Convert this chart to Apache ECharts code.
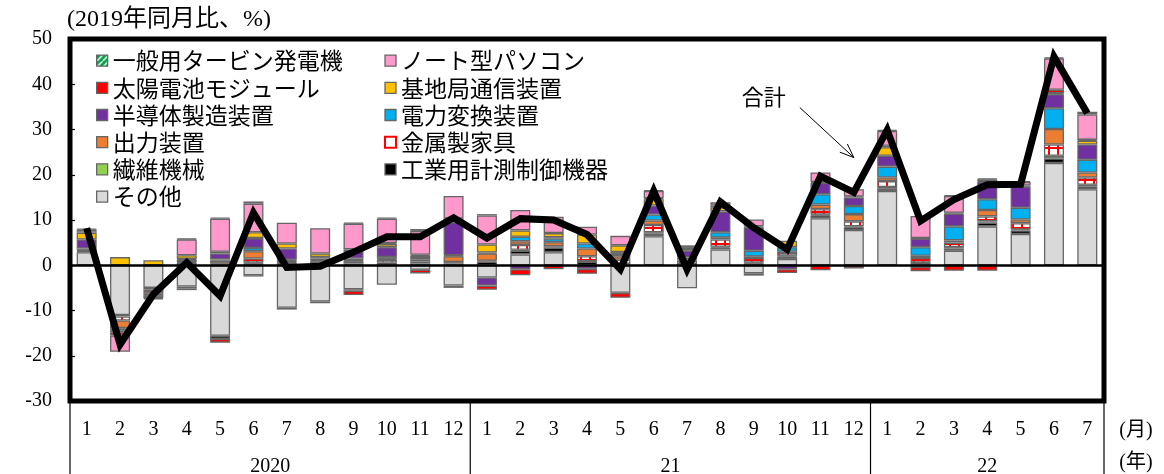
<!DOCTYPE html>
<html>
<head>
<meta charset="utf-8">
<script src="https://cdn.jsdelivr.net/npm/echarts/dist/echarts.min.js"></script>
<style>
html,body{margin:0;padding:0;background:#fff;}
#chart{width:1164px;height:474px;}
</style>
</head>
<body>
<div id="chart"></div>
<script>
// Months (2020-1 .. 2022-7) and year groups
const months = ['1','2','3','4','5','6','7','8','9','10','11','12',
                '1','2','3','4','5','6','7','8','9','10','11','12',
                '1','2','3','4','5','6','7'];
const yearLabels = ['2020', '21', '22'];
const yearLengths = [12, 12, 7];
const yTicks = [-30, -20, -10, 0, 10, 20, 30, 40, 50];

// Contributions by item (percentage points, vs. same month of 2019)
const other            = [2.9,-11.0,-5.0,-4.7,-15.6,-2.2,-9.4,-8.0,-5.3,-4.3,-1.0,-4.5,-2.7,2.4,2.9,0,-6.1,6.4,-5.1,3.5,-1.8,1.4,10.4,7.8,16.4,-0.4,3.2,8.6,6.9,22.6,16.8];
const instruments      = [0.2,-0.3,-0.4,0.5,-0.7,0.4,0.5,0.3,0.4,0.6,0.4,0.4,0.8,0.8,1.0,0.8,0.3,0.6,0.3,0.4,0.4,0.5,0.6,0.6,0.6,0.5,0.5,0.8,0.8,1.0,0.6];
const textileMachinery = [0,0,0,0,0.2,0.2,0,0,0,0,0,0,0,0.2,0,0.1,0,0.3,0,0.2,0.2,0.2,0.2,0.2,0.3,0.1,0.3,0.3,0.2,0.6,0.4];
const metalFurniture   = [0.1,-0.9,-0.3,0.2,0.2,0.9,0.2,0.6,0.5,0.6,0.4,0.3,0.2,1.1,0.3,1.1,0.9,1.6,0.7,1.6,1.0,0.6,1.2,1.1,1.3,1.0,1.0,1.1,1.4,2.5,1.6];
const outputDevices    = [0.2,-1.7,-0.6,0.5,0.6,1.6,0.3,0.2,0.2,0.2,0.4,1.3,1.6,0.8,0.9,1.7,0.8,1.0,0.3,0.4,0.3,0.3,1.0,1.6,0.8,0.5,0.5,1.4,0.8,3.4,1.1];
const powerConversion  = [0.3,-0.6,-0.3,0.2,0.3,0.7,0.2,0.4,0.4,0.4,0.6,0.2,0.2,1.0,0.8,1.1,0.5,1.3,0.4,1.2,1.3,1.0,2.3,1.8,2.4,1.9,3.1,2.4,2.6,4.6,2.8];
const semiconductor    = [2.0,-0.3,-0.4,-0.4,1.3,2.2,2.5,0.3,2.0,2.2,0.3,7.3,-1.8,-0.9,0.3,-0.8,0.4,2.0,1.5,4.6,5.2,-0.9,2.5,1.9,2.4,1.9,2.8,3.8,4.7,3.1,3.4];
const baseStation      = [1.5,1.8,1.1,0.8,0.4,1.3,1.1,0.8,-0.3,0.7,0.2,0.8,1.8,1.4,0.9,2.0,1.5,1.4,0.4,0.9,0.2,1.4,0.2,0.2,1.9,0.1,0.2,0.2,-0.3,0.2,0.8];
const solarModules     = [0.3,-0.7,-0.3,-0.4,-0.8,-0.3,-0.4,-0.4,-1.0,0.2,-0.8,-0.5,-0.9,-1.3,-0.9,-1.1,-1.1,0.2,0.2,0.4,-0.5,-0.8,-1.1,-0.7,0.3,-0.9,-1.2,-1.2,0.2,0.8,0.2];
const notebookPCs      = [0.4,-3.6,-0.2,3.5,7.3,6.3,4.6,5.6,5.7,5.4,5.3,5.0,6.4,4.5,3.6,1.7,2.1,1.6,0.1,0.7,1.5,0,2.1,1.6,3.3,4.9,3.7,0.4,0.8,6.9,5.6];
const turbines         = [0.2,0,0,0.2,0.2,0.5,0,0,0.2,0.2,0.4,0,0.3,0,0,0,0,0.2,0.5,0,0,0,0,0,0.2,0,0.2,0.2,0.2,0.2,0.6];
const total            = [8.2,-17.5,-6.4,0.6,-6.8,11.6,-0.5,-0.2,2.9,6.3,6.3,10.5,6.0,10.3,10.0,6.8,-0.9,16.4,-0.9,14.0,8.3,3.5,19.7,16.1,29.9,9.8,14.5,17.8,17.9,46.1,33.6];

// Fill patterns
function metalPattern() {
  const c = document.createElement('canvas');
  c.width = 9; c.height = 8;
  const g = c.getContext('2d');
  g.fillStyle = '#ffffff'; g.fillRect(0, 0, 9, 8);
  g.fillStyle = '#ff0000';
  g.fillRect(4, 0, 2, 8);
  g.fillRect(0, 3, 9, 2);
  return { image: c, repeat: 'repeat' };
}
function turbinePattern() {
  const c = document.createElement('canvas');
  c.width = 6; c.height = 6;
  const g = c.getContext('2d');
  g.fillStyle = '#00a04a'; g.fillRect(0, 0, 6, 6);
  g.strokeStyle = '#ffffff'; g.lineWidth = 1.5;
  g.beginPath(); g.moveTo(0, 6); g.lineTo(6, 0); g.stroke();
  return { image: c, repeat: 'repeat' };
}

// Stacking order, from the zero line outwards
const stackItems = [
  { name: 'その他',             data: other,            color: '#d9d9d9' },
  { name: '工業用計測制御機器', data: instruments,      color: '#000000' },
  { name: '繊維機械',           data: textileMachinery, color: '#92d050' },
  { name: '金属製家具',         data: metalFurniture,   color: metalPattern() },
  { name: '出力装置',           data: outputDevices,    color: '#ed7d31' },
  { name: '電力変換装置',       data: powerConversion,  color: '#00b0f0' },
  { name: '半導体製造装置',     data: semiconductor,    color: '#7030a0' },
  { name: '基地局通信装置',     data: baseStation,      color: '#ffc000' },
  { name: '太陽電池モジュール', data: solarModules,     color: '#ff0000' },
  { name: 'ノート型パソコン',   data: notebookPCs,      color: '#ff99cc' },
  { name: '一般用タービン発電機', data: turbines,       color: turbinePattern() }
];

const SERIF = "'Liberation Serif', 'DejaVu Serif', 'Noto Sans CJK JP', serif";
const LEGEND_FONT = "'Noto Sans CJK JP', sans-serif";

const barSeries = stackItems.map(it => ({
  name: it.name,
  type: 'bar',
  stack: 'total',
  barWidth: 20,
  data: it.data.map(v => (v === 0 ? null : v)),
  itemStyle: { color: it.color, borderColor: '#666666', borderWidth: 1.3 },
  emphasis: { disabled: true }
}));

const legendLeft = ['一般用タービン発電機', '太陽電池モジュール', '半導体製造装置', '出力装置', '繊維機械', 'その他'];
const legendRight = ['ノート型パソコン', '基地局通信装置', '電力変換装置', '金属製家具', '工業用計測制御機器'];
function legendData(names) {
  return names.map(n => n === '金属製家具'
    ? { name: n, itemStyle: { color: '#ffffff', borderColor: '#ff0000', borderWidth: 2 } }
    : { name: n, itemStyle: { borderColor: '#666666', borderWidth: 1.3 } });
}
const legendCommon = {
  orient: 'vertical', icon: 'rect', itemWidth: 11, itemHeight: 11, itemGap: 0,
  padding: 0, selectedMode: false,
  textStyle: { fontFamily: LEGEND_FONT, fontSize: 23, color: '#000', lineHeight: 27.2, padding: [0, 0, 0, 0] }
};

const chart = echarts.init(document.getElementById('chart'), null, { renderer: 'canvas' });
chart.setOption({
  animation: false,
  backgroundColor: '#ffffff',
  grid: { left: 70, right: 60, top: 39, bottom: 73, show: true, borderColor: '#000', borderWidth: 5, backgroundColor: 'transparent' },
  legend: [
    Object.assign({}, legendCommon, { left: 96, top: 47, data: legendData(legendLeft) }),
    Object.assign({}, legendCommon, { left: 384, top: 47, data: legendData(legendRight) })
  ],
  xAxis: {
    type: 'category',
    data: months,
    axisLine: { show: false },
    axisTick: { show: false },
    axisLabel: { fontFamily: SERIF, fontSize: 20, color: '#000', margin: 19, interval: 0 }
  },
  yAxis: {
    type: 'value',
    min: yTicks[0], max: yTicks[yTicks.length - 1], interval: 10,
    axisLine: { show: false },
    axisTick: { show: true, inside: true, length: 5, lineStyle: { color: '#000', width: 1.2 } },
    splitLine: { show: false },
    axisLabel: { fontFamily: SERIF, fontSize: 20, color: '#000', margin: 18 }
  },
  series: barSeries.concat([{
    name: '合計',
    type: 'line',
    data: total,
    symbol: 'none',
    z: 10,
    lineStyle: { color: '#000', width: 7, join: 'miter' },
    emphasis: { disabled: true },
    markLine: {
      silent: true, symbol: 'none', label: { show: false },
      lineStyle: { color: '#000', width: 2.5, type: 'solid' },
      data: [{ yAxis: 0 }]
    }
  }])
});

// Axis decorations: year separators, year labels, units, axis title, annotation
const x0 = chart.convertToPixel({ xAxisIndex: 0 }, 0);
const cw = chart.convertToPixel({ xAxisIndex: 0 }, 1) - x0;
const edge = k => x0 - cw / 2 + k * cw;
const gfx = [];
let acc = 0;
const bounds = [0];
yearLengths.forEach(n => { acc += n; bounds.push(acc); });
bounds.forEach(k => {
  gfx.push({ type: 'line', shape: { x1: edge(k), y1: 403, x2: edge(k), y2: 474 }, style: { stroke: '#000', lineWidth: 1.2 } });
});
yearLabels.forEach((lab, i) => {
  const cx = (edge(bounds[i]) + edge(bounds[i + 1])) / 2;
  gfx.push({ type: 'text', x: cx, y: 467, style: { text: lab, fontFamily: SERIF, fontSize: 20, fill: '#000', align: 'center', verticalAlign: 'middle' } });
});
const rightEdge = edge(months.length);
gfx.push({ type: 'text', x: rightEdge + 32, y: 431, style: { text: '(月)', fontFamily: SERIF, fontSize: 20, fill: '#000', align: 'center', verticalAlign: 'middle' } });
gfx.push({ type: 'text', x: rightEdge + 32, y: 463, style: { text: '(年)', fontFamily: SERIF, fontSize: 20, fill: '#000', align: 'center', verticalAlign: 'middle' } });
gfx.push({ type: 'text', x: 67, y: 20, style: { text: '(2019年同月比、%)', fontFamily: SERIF, fontSize: 24, fill: '#000', align: 'left', verticalAlign: 'middle' } });
gfx.push({ type: 'text', x: 595, y: -10, style: { text: '主要品目別の資本財輸出金額指数', fontFamily: SERIF, fontSize: 23, fill: '#000', align: 'center', verticalAlign: 'middle' } });

// "合計" callout with an open arrow pointing at the total line
const tip = chart.convertToPixel({ xAxisIndex: 0, yAxisIndex: 0 }, [23, 23.8]);
const tail = [tip[0] - 54, tip[1] - 50];
const ang = Math.atan2(tip[1] - tail[1], tip[0] - tail[0]);
const head = 15, spread = 0.38;
const hA = [tip[0] - head * Math.cos(ang - spread), tip[1] - head * Math.sin(ang - spread)];
const hB = [tip[0] - head * Math.cos(ang + spread), tip[1] - head * Math.sin(ang + spread)];
gfx.push({ type: 'line', shape: { x1: tail[0], y1: tail[1], x2: tip[0], y2: tip[1] }, style: { stroke: '#000', lineWidth: 1 } });
gfx.push({ type: 'polyline', shape: { points: [hA, tip, hB] }, style: { stroke: '#000', lineWidth: 1, fill: null } });
gfx.push({ type: 'text', x: tail[0] - 36, y: tail[1] - 11, style: { text: '合計', fontFamily: LEGEND_FONT, fontSize: 22, fill: '#000', align: 'center', verticalAlign: 'middle' } });

chart.setOption({ graphic: gfx });
</script>
</body>
</html>
